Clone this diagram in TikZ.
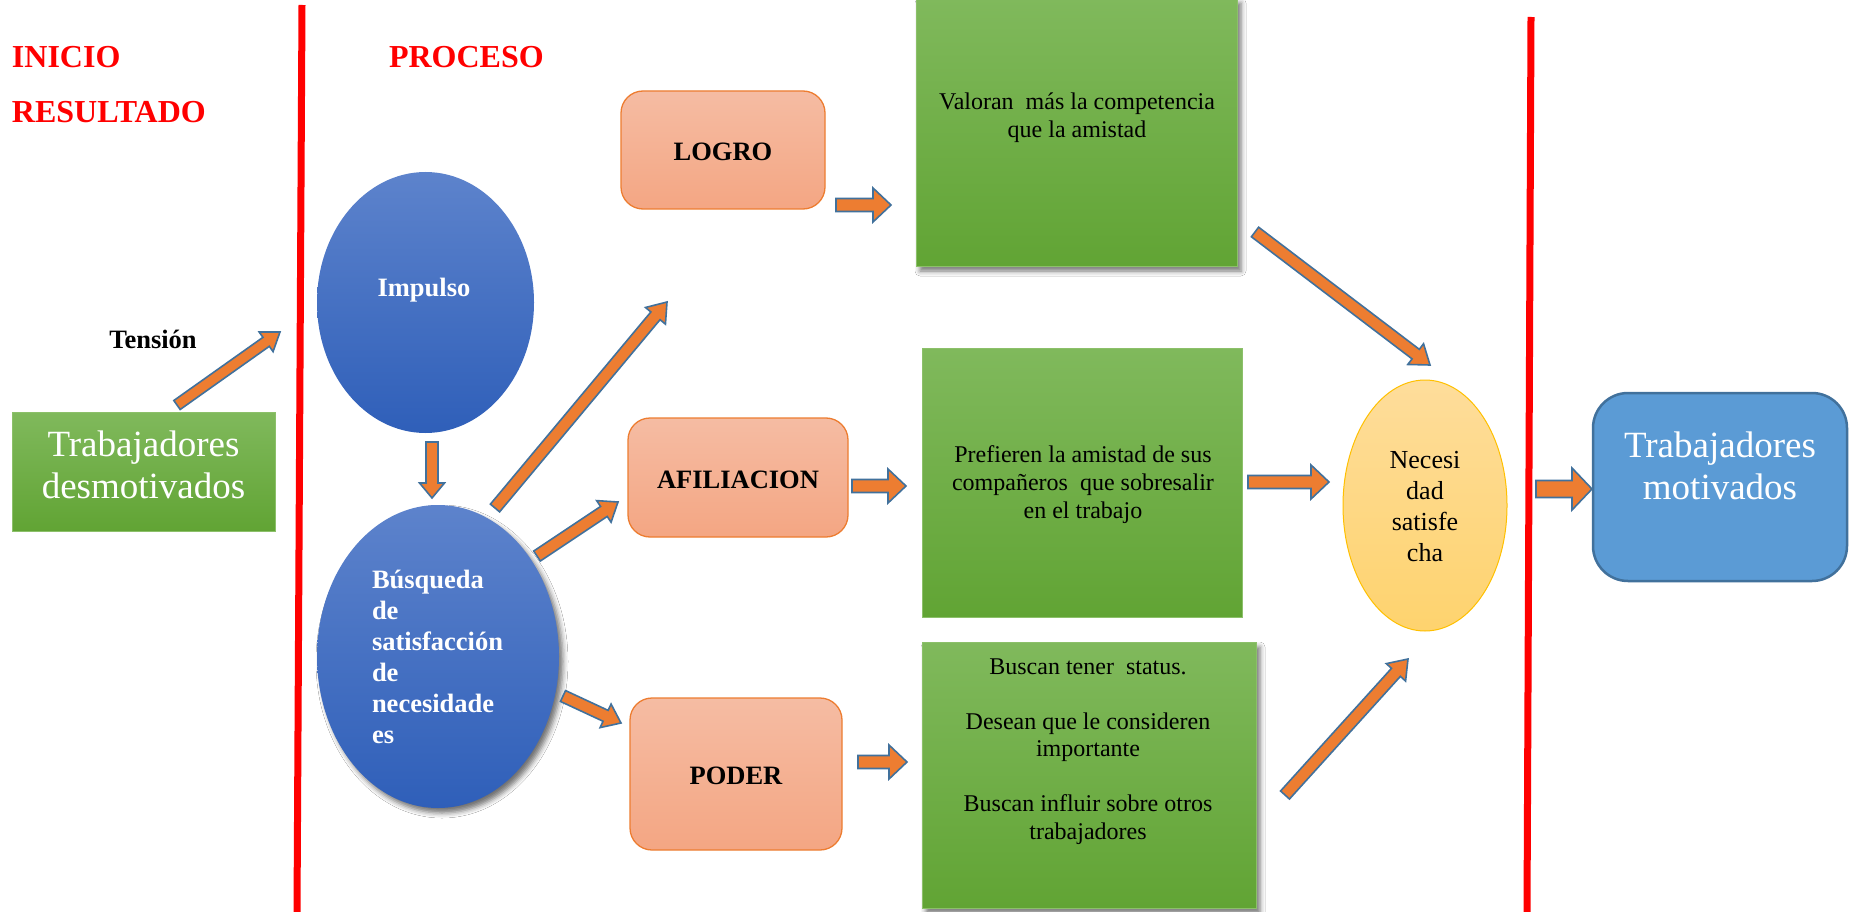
\documentclass[tikz,border=0pt]{standalone}
\usepackage{fontspec}
\setmainfont{Liberation Serif}
\usetikzlibrary{shapes.geometric,calc,shadows.blur}
\definecolor{redln}{RGB}{255,0,0}
\definecolor{gtop}{RGB}{128,185,92}
\definecolor{gbot}{RGB}{97,164,52}
\definecolor{gline}{RGB}{140,192,106}
\definecolor{btop}{RGB}{93,131,204}
\definecolor{bbot}{RGB}{47,95,185}
\definecolor{otop}{RGB}{245,188,163}
\definecolor{obot}{RGB}{244,166,131}
\definecolor{oline}{RGB}{237,125,49}
\definecolor{ytop}{RGB}{254,221,155}
\definecolor{ybot}{RGB}{254,211,110}
\definecolor{yline}{RGB}{255,192,0}
\definecolor{bluefill}{RGB}{91,155,213}
\definecolor{blueline}{RGB}{65,113,156}
\definecolor{arrfill}{RGB}{237,125,49}
\definecolor{arrline}{RGB}{65,113,156}
\tikzset{
  blockarr/.style={fill=arrfill, draw=arrline, line width=1.6pt, line join=miter},
  redl/.style={draw=redln, line width=7pt},
  hdr/.style={text=redln, font=\fontsize{32}{38}\selectfont\bfseries, anchor=base west},
  greenbox/.style={rectangle, top color=gtop, bottom color=gbot, draw=gline, line width=0.8pt},
  shadowed/.style={blur shadow={shadow xshift=4pt, shadow yshift=-5pt, shadow blur radius=5pt, shadow opacity=55}},
  blueell/.style={ellipse, top color=btop, bottom color=bbot},
  orbox/.style={rectangle, rounded corners=22pt, top color=otop, bottom color=obot, draw=oline, line width=1.3pt},
  lab/.style={font=\fontsize{26.5}{31}\selectfont\bfseries, anchor=base},
  body/.style={font=\fontsize{24}{28}\selectfont, align=center, anchor=base},
  big/.style={font=\fontsize{37}{42}\selectfont, text=white, align=center, anchor=base}
}
\newcommand{\blockarrow}[5]{%
  \coordinate (hb) at ($(#2)!#5!(#1)$);
  \draw[blockarr] ($(#1)!#3!90:(#2)$) -- ($(hb)!#3!90:(#2)$) -- ($(hb)!#4!90:(#2)$)
    -- (#2) -- ($(hb)!#4!-90:(#2)$) -- ($(hb)!#3!-90:(#2)$) -- ($(#1)!#3!-90:(#2)$) -- cycle;
}
\begin{document}
\begin{tikzpicture}[x=1pt,y=-1pt, every node/.style={inner sep=0pt, outer sep=0pt}]
\fill[white] (0,0) rectangle (1850,912);
\useasboundingbox (0,0) rectangle (1850,912);

% red separators
\coordinate (r1t) at (302,5); \coordinate (r1b) at (297,912);
\coordinate (r2t) at (1531,17); \coordinate (r2b) at (1527,912);
\draw[redl] (r1t) -- (r1b);
\draw[redl] (r2t) -- (r2b);

% headers
\node[hdr] (inicio) at (12,68) {INICIO};
\node[hdr] (resultado) at (12,123) {RESULTADO};
\node[hdr] (proceso) at (389,68) {PROCESO};

% left box (multi-line nodes: base = last line)
\node[greenbox, minimum width=263pt, minimum height=119pt] (desm) at (143.5,471.5) {};
\node[big] (desmt) at (143.5,498) {Trabajadores\\desmotivados};
\node[lab] (tension) at (153,348) {Tensión};

% ellipses
\node[blueell, minimum width=217pt, minimum height=261pt] (impulso) at (425.5,302.5) {};
\node[lab, text=white] (impt) at (424,296) {Impulso};
\node[blueell, shadowed, minimum width=242pt, minimum height=303pt] (busq) at (438,656.5) {};
\node[lab, text=white, align=left, anchor=base west] (busqt) at (372,743)
  {Búsqueda\\de\\satisfacción\\de\\necesidade\\es};

% orange boxes
\node[orbox, minimum width=204pt, minimum height=118pt] (logro) at (723,150) {};
\node[lab] (logrot) at (723,161) {LOGRO};
\node[orbox, minimum width=220pt, minimum height=119pt] (afil) at (738,477.5) {};
\node[lab] (afilt) at (738,488) {AFILIACION};
\node[orbox, minimum width=212pt, minimum height=152pt] (poder) at (736,774) {};
\node[lab] (podert) at (736,784) {PODER};

% green boxes
\node[greenbox, shadowed, minimum width=321pt, minimum height=268pt] (g1) at (1076.5,132) {};
\node[body] (g1t) at (1077,138) {Valoran~ más la competencia\\que la amistad};
\node[greenbox, minimum width=320pt, minimum height=269pt] (g2) at (1082,482.5) {};
\node[body] (g2t) at (1083,518) {Prefieren la amistad de sus\\compañeros~ que sobresalir\\en el trabajo};
\node[greenbox, shadowed, minimum width=334pt, minimum height=266pt] (g3) at (1089,775) {};
\node[body, font=\fontsize{24}{27.5}\selectfont] (g3t) at (1088,839)
  {Buscan tener~ status.\\[27.5pt]Desean que le consideren\\importante\\[27.5pt]Buscan influir sobre otros\\trabajadores};

% yellow ellipse
\node[ellipse, top color=ytop, bottom color=ybot, draw=yline, line width=1pt,
      minimum width=164pt, minimum height=251pt] (necesidad) at (1425,505.5) {};
\node[font=\fontsize{26}{31}\selectfont, align=center, anchor=base] (necest) at (1425,561)
  {Necesi\\dad\\satisfe\\cha};

% blue box
\node[rectangle, rounded corners=35pt, fill=bluefill, draw=blueline, line width=2.5pt,
      minimum width=254pt, minimum height=188pt] (motiv) at (1720,487) {};
\node[big] (motivt) at (1720,499) {Trabajadores\\motivados};

% arrows
\coordinate (a1s) at (177,405);  \coordinate (a1e) at (280,332);
\coordinate (a2s) at (432,442);  \coordinate (a2e) at (432,498);
\coordinate (a3s) at (495,508);  \coordinate (a3e) at (667,302);
\coordinate (a4s) at (537,556);  \coordinate (a4e) at (618,502);
\coordinate (a5s) at (563,696);  \coordinate (a5e) at (621,723);
\coordinate (a6s) at (836,205);  \coordinate (a6e) at (891,205);
\coordinate (a7s) at (852,486);  \coordinate (a7e) at (906,486);
\coordinate (a8s) at (858,762);  \coordinate (a8e) at (907,762);
\coordinate (a9s) at (1255,232); \coordinate (a9e) at (1430,365);
\coordinate (a10s) at (1248,482); \coordinate (a10e) at (1329,482);
\coordinate (a11s) at (1285,795); \coordinate (a11e) at (1408,659);
\coordinate (a12s) at (1536,489); \coordinate (a12e) at (1592,489);
\blockarrow{a1s}{a1e}{5.5pt}{12pt}{17pt}
\blockarrow{a2s}{a2e}{6pt}{12.5pt}{15pt}
\blockarrow{a3s}{a3e}{6pt}{13pt}{18pt}
\blockarrow{a4s}{a4e}{6pt}{13pt}{17pt}
\blockarrow{a5s}{a5e}{6pt}{13pt}{17pt}
\blockarrow{a6s}{a6e}{6.5pt}{17pt}{18pt}
\blockarrow{a7s}{a7e}{6.5pt}{17pt}{18pt}
\blockarrow{a8s}{a8e}{6.5pt}{17pt}{18pt}
\blockarrow{a9s}{a9e}{6pt}{13pt}{18pt}
\blockarrow{a10s}{a10e}{6.5pt}{17pt}{18pt}
\blockarrow{a11s}{a11e}{6pt}{13pt}{18pt}
\blockarrow{a12s}{a12e}{8.5pt}{21pt}{20pt}
\end{tikzpicture}
\end{document}
